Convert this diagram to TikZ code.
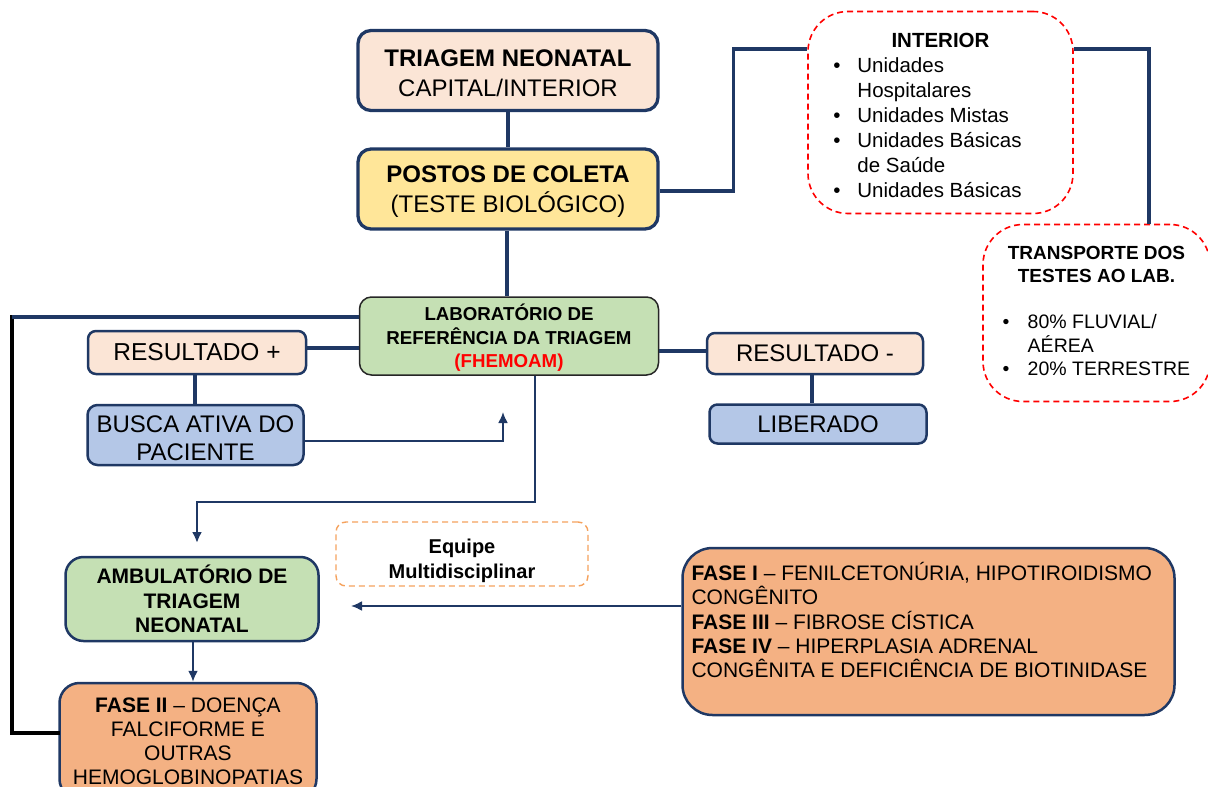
\documentclass[tikz,border=0pt]{standalone}
\usepackage{fontspec}
\setmainfont{Liberation Sans}
\usetikzlibrary{arrows.meta}
\definecolor{navy}{HTML}{1F3864}
\definecolor{pinkfill}{HTML}{FBE5D6}
\definecolor{yellowfill}{HTML}{FFE699}
\definecolor{greenfill}{HTML}{C5E0B4}
\definecolor{bluefill}{HTML}{B4C7E7}
\definecolor{orangefill}{HTML}{F4B183}
\definecolor{dashred}{HTML}{FF0000}
\definecolor{dashorange}{HTML}{F5A25D}

\begin{document}
\begin{tikzpicture}[x=1pt,y=-1pt,>={Latex[length=11pt,width=10pt]},
  box/.style={draw=navy,line width=2.5pt,rounded corners=10pt,align=center,inner sep=0pt},
  redbox/.style={draw=dashred,line width=1.6pt,dash pattern=on 6pt off 4pt,rounded corners=40pt,inner sep=0pt},
  link/.style={draw=navy,line width=3.5pt},
  flow/.style={draw=navy,line width=2pt,->}]
\useasboundingbox (0,0) rectangle (1208,787);

% top of the chain
\node[box,fill=pinkfill,line width=3.3pt,rounded corners=13pt,minimum width=300pt,minimum height=80pt,font=\fontsize{24}{30}\selectfont] (tri) at (508,70.5) {\rule{0pt}{22pt}\textbf{TRIAGEM NEONATAL}\\CAPITAL/INTERIOR};
\node[box,fill=yellowfill,line width=3.3pt,rounded corners=13pt,minimum width=300pt,minimum height=80pt,font=\fontsize{24}{30}\selectfont] (postos) at (508,189) {\rule{0pt}{22pt}\textbf{POSTOS DE COLETA}\\(TESTE BIOLÓGICO)};
\node[box,draw=black!85,line width=1.5pt,fill=greenfill,rounded corners=12pt,minimum width=299pt,minimum height=78pt,font=\bfseries\fontsize{18.7}{23.5}\selectfont] (lab) at (509,336) {\rule{0pt}{20pt}LABORATÓRIO DE\\REFERÊNCIA DA TRIAGEM\\\textcolor{dashred}{(FHEMOAM)}};

% dashed notes
\node[redbox,minimum width=265pt,minimum height=202pt,font=\fontsize{20.5}{25}\selectfont] (interior) at (940.5,112.5) {%
\begin{tabular}{@{}p{24pt}@{}l@{\hspace{26pt}}}
\multicolumn{2}{@{}c@{}}{\rule{0pt}{28pt}\bfseries INTERIOR}\\
\textbullet & Unidades\\
 & Hospitalares\\
\textbullet & Unidades Mistas\\
\textbullet & Unidades Básicas\\
 & de Saúde\\
\textbullet & Unidades Básicas
\end{tabular}};
\node[redbox,minimum width=227pt,minimum height=177pt,font=\fontsize{19.5}{22.5}\selectfont] (transp) at (1096.5,313) {%
\begin{tabular}{@{}p{25pt}@{}l@{}}
\multicolumn{2}{@{}c@{}}{\bfseries\fontsize{19}{21}\selectfont TRANSPORTE DOS}\\
\multicolumn{2}{@{}c@{}}{\bfseries\fontsize{19}{21}\selectfont TESTES AO LAB.}\\[24pt]
\textbullet & 80\% FLUVIAL/\\
 & AÉREA\\
\textbullet & 20\% TERRESTRE
\end{tabular}};

% results
\node[box,fill=pinkfill,rounded corners=8pt,minimum width=218pt,minimum height=43pt,font=\fontsize{24.5}{28}\selectfont] (resp) at (197,352.5) {RESULTADO +};
\node[box,fill=bluefill,minimum width=216pt,minimum height=60pt,font=\fontsize{24}{28}\selectfont] (busca) at (195.5,435) {\rule{0pt}{24pt}BUSCA ATIVA DO\\PACIENTE};
\node[box,fill=pinkfill,rounded corners=8pt,minimum width=216pt,minimum height=41pt,font=\fontsize{24}{28}\selectfont] (resn) at (815,353.5) {RESULTADO -};
\node[box,fill=bluefill,rounded corners=8pt,minimum width=217pt,minimum height=39pt,font=\fontsize{24}{28}\selectfont] (lib) at (818,424) {LIBERADO};

% lower part
\node[draw=dashorange,line width=1.4pt,dash pattern=on 6pt off 4pt,rounded corners=10pt,align=center,inner sep=0pt,minimum width=252pt,minimum height=64pt,font=\bfseries\fontsize{20}{25}\selectfont] (equipe) at (462,554) {\rule{0pt}{28pt}Equipe\\Multidisciplinar};
\node[box,fill=greenfill,rounded corners=18pt,minimum width=253pt,minimum height=84pt,font=\bfseries\fontsize{21}{24.5}\selectfont] (amb) at (192,599) {AMBULATÓRIO DE\\TRIAGEM\\NEONATAL};
\node[box,fill=orangefill,rounded corners=20pt,minimum width=257pt,minimum height=116pt,font=\fontsize{21}{24}\selectfont] (fase2) at (188,741) {\textbf{FASE II} – DOENÇA\\FALCIFORME E\\OUTRAS\\HEMOGLOBINOPATIAS};
\node[box,fill=orangefill,rounded corners=30pt,inner xsep=9pt,inner ysep=10pt] (fase1) at (928.5,631.5) {\parbox[c][147pt][t]{474pt}{\fontsize{21}{24.4}\selectfont\vspace*{4pt}
\textbf{FASE I} – FENILCETONÚRIA, HIPOTIROIDISMO\\CONGÊNITO\\\textbf{FASE III} – FIBROSE CÍSTICA\\\textbf{FASE IV} – HIPERPLASIA ADRENAL\\CONGÊNITA E DEFICIÊNCIA DE BIOTINIDASE}};

\coordinate (cnr) at (12,317);
\coordinate (labin) at (503,412);
\coordinate (ambin) at (197,543);
\coordinate (ambside) at (351,606);

% connectors
\draw[link] (tri) -- (postos);
\draw[link] (postos.south -| 507,0) -- (lab.north -| 507,0);
\draw[link] (postos.east |- 0,191) -- ++(74,0) |- (interior.west |- 0,49);
\draw[link] (interior.east |- 0,49) -| (transp.north -| 1149,0);
\draw[line width=4pt,line cap=rect] (cnr) |- ([yshift=8pt]fase2.west);
\draw[link] (lab.west |- cnr) -- (cnr);
\draw[link] (resp.east |- 0,348) -- (lab.west |- 0,348);
\draw[link] (resp.south -| 195,0) -- (busca.north -| 195,0);
\draw[link] (lab.east |- 0,351) -- (resn.west |- 0,351);
\draw[link] (resn.south -| 812,0) -- (lib.north -| 812,0);
\draw[flow] (busca.east |- 0,441) -| (labin);
\draw[flow,line width=2.5pt] (lab.south -| 535,0) -- (535,502) -| (ambin);
\draw[flow] (amb.south -| 193,0) -- (fase2.north -| 193,0);
\draw[flow] (fase1.west |- ambside) -- (ambside);
\end{tikzpicture}
\end{document}
